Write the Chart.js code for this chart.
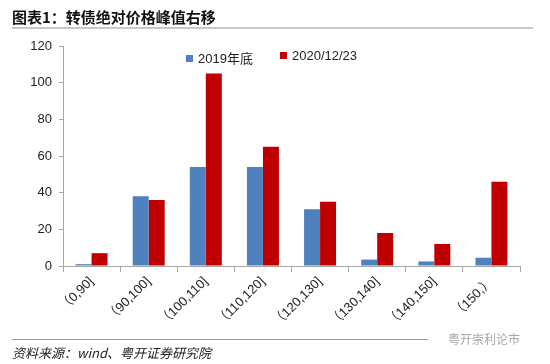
<!DOCTYPE html>
<html>
<head>
<meta charset="utf-8">
<script src="https://cdn.jsdelivr.net/npm/chart.js@4.4.0/dist/chart.umd.min.js"></script>
<style>
  html, body { margin: 0; padding: 0; background: #fff; }
  #wrap { position: relative; width: 550px; height: 364px; overflow: hidden; }
  #c { position: absolute; left: 0; top: 0; }
  .title { position: absolute; left: 12px; top: 6px; font: bold 15px "Noto Sans CJK SC", sans-serif; color: #111; }
  .tline { position: absolute; left: 12px; top: 27px; width: 521px; height: 2px; background: #c8c8c8; }
  .legend { position: absolute; top: 48px; font: 13px "Liberation Sans", "Noto Sans CJK SC", sans-serif; color: #222; white-space: nowrap; }
  .legend i { display: inline-block; width: 7px; height: 7px; margin-right: 5px; vertical-align: 1px; }
  .fline { position: absolute; left: 12px; top: 339px; width: 416px; height: 1px; background: #9a9a9a; }
  .foot { position: absolute; left: 12px; top: 343px; font: italic 13px "Noto Sans CJK SC", sans-serif; color: #222; }
  .mark { position: absolute; left: 448px; top: 330px; font: 12px "Noto Sans CJK SC", sans-serif; color: #a8a8a8; }
</style>
</head>
<body>
<div id="wrap">
  <canvas id="c" width="550" height="364"></canvas>
  <div class="title">图表1：转债绝对价格峰值右移</div>
  <div class="tline"></div>
  <div class="legend" style="left:186px"><i style="background:#4f81bd"></i>2019年底</div>
  <div class="legend" style="left:280px"><i style="background:#c00000"></i>2020/12/23</div>
  <div class="fline"></div>
  <div class="foot">资料来源：wind、粤开证券研究院</div>
  <div class="mark">粤开崇利论市</div>
</div>
<script>
const categories = ['（0,90]', '（90,100]', '（100,110]', '（110,120]', '（120,130]', '（130,140]', '（140,150]', '（150,）'];
const end2019 = [1, 38, 54, 54, 31, 3.5, 2.5, 4.5];
const dec2020 = [7, 36, 105, 65, 35, 18, 12, 46];
const yTicks = [0, 20, 40, 60, 80, 100, 120];

new Chart(document.getElementById('c'), {
  type: 'bar',
  data: {
    labels: categories,
    datasets: [
      { label: '2019年底', data: end2019, backgroundColor: '#4f81bd' },
      { label: '2020/12/23', data: dec2020, backgroundColor: '#c00000' }
    ]
  },
  options: {
    responsive: false,
    animation: false,
    layout: { padding: { top: 46, left: 0, right: 30, bottom: 0 } },
    datasets: { bar: { categoryPercentage: 0.56, barPercentage: 1 } },
    plugins: { legend: { display: false }, tooltip: { enabled: false } },
    scales: {
      x: {
        grid: { display: true, drawOnChartArea: false, tickLength: 6, color: '#a6a6a6', offset: true },
        border: { color: '#a6a6a6' },
        ticks: {
          maxRotation: 45, minRotation: 45, padding: 2,
          color: '#222', font: { family: 'Liberation Sans, Noto Sans CJK SC', size: 13 }
        },
        afterFit: (s) => { s.height = 98; }
      },
      y: {
        min: 0, max: 120,
        afterBuildTicks: (s) => { s.ticks = yTicks.map(v => ({ value: v })); },
        grid: { display: true, drawOnChartArea: false, tickLength: 4, color: '#a6a6a6' },
        border: { color: '#a6a6a6' },
        ticks: { padding: 7, color: '#222', font: { family: 'Liberation Sans', size: 13 } },
        afterFit: (s) => { s.width = 63; }
      }
    }
  }
});
</script>
</body>
</html>
